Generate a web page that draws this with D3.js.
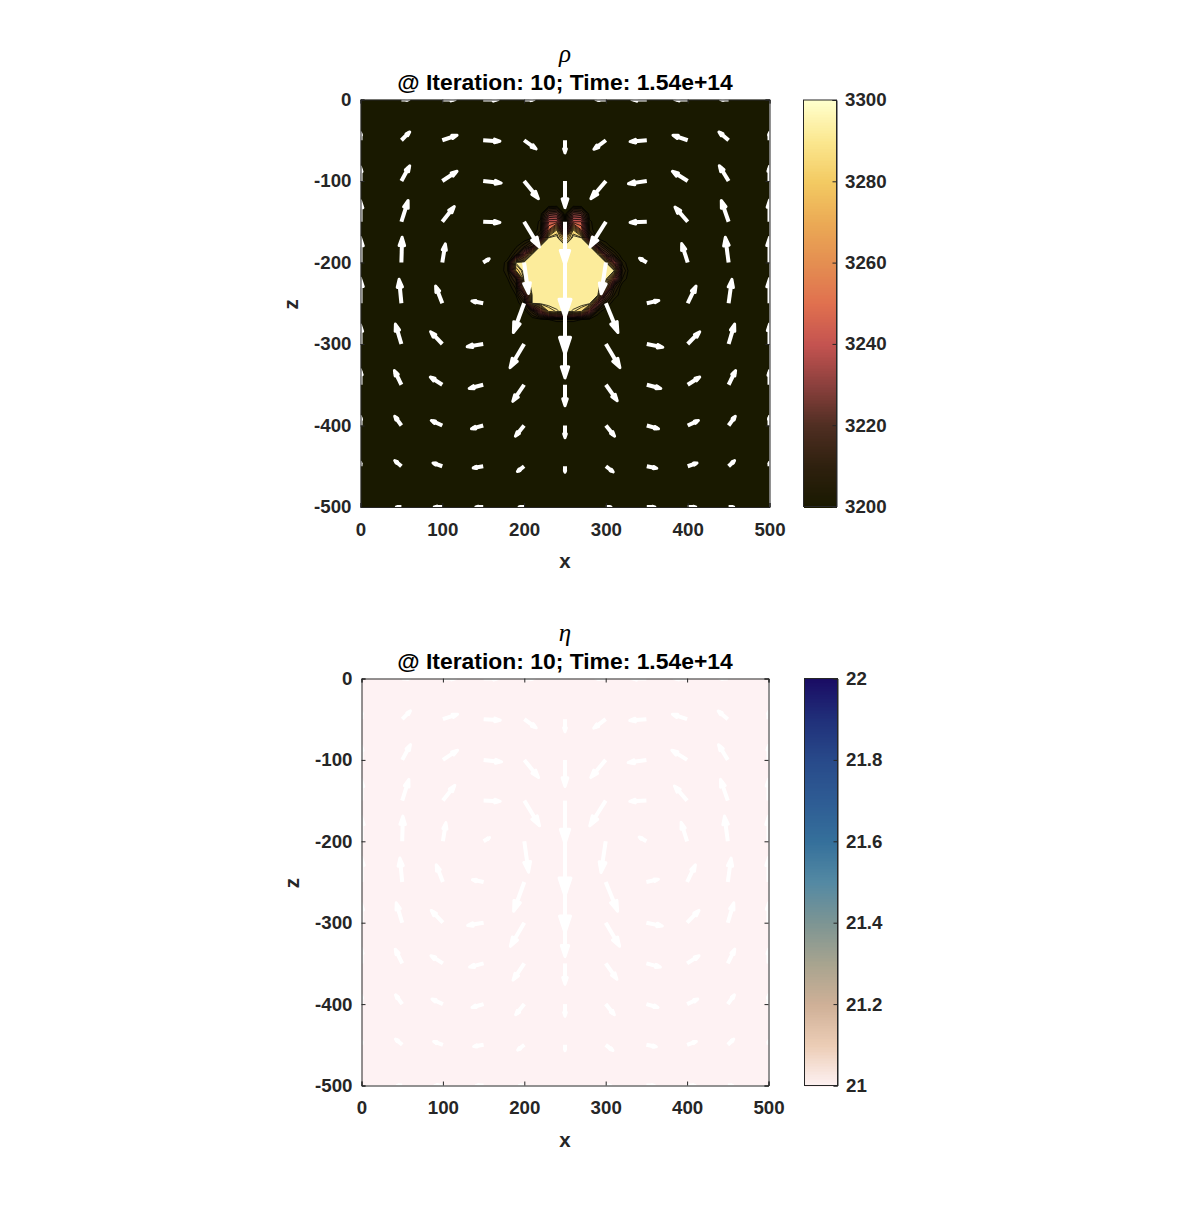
<!DOCTYPE html>
<html>
<head>
<meta charset="utf-8">
<script src="https://cdn.jsdelivr.net/npm/d3@7"></script>
<style>
  body { margin: 0; background: #fff; }
  text { font-family: "Liberation Sans", Arial, sans-serif; font-weight: bold; fill: #262626; }
  .tick text { font-size: 18.7px; }
  .tick line, .domain { stroke: #262626; stroke-width: 1; }
</style>
</head>
<body>
<svg id="fig" width="1197" height="1220"></svg>
<script>
// Quiver grid
const gridX = [0, 50, 100, 150, 200, 250, 300, 350, 400, 450, 500];
const gridZ = [0, -50, -100, -150, -200, -250, -300, -350, -400, -450, -500];

// Horizontal velocity, one row per gridZ
const velU = [
  [0, 7.6, 13, 15, 10, 0, -10, -15, -13, -8, 0],
  [0, 8.3, 14.7, 16.7, 12, 0, -12, -16.7, -14.7, -9.7, 0],
  [0, 8.3, 14.7, 18, 14.3, 0, -15, -18.3, -15.3, -9.3, 0],
  [0, 6.7, 12, 16.7, 15.3, 0, -16, -16.7, -12.7, -7.3, 0],
  [0, 0.7, 3, 6, 4.3, 0, -4.7, -7.3, -6, -3.3, 0],
  [0, -2.3, -6.7, -11.3, -10.7, 0, 12, 12, 8.3, 3.3, 0],
  [0, -6, -11.7, -16, -14, 0, 14, 16, 12, 6, 0],
  [0, -7, -12, -14, -11.3, 0, 11.3, 14, 12, 7, 0],
  [0, -6.7, -11, -11.7, -8.7, 0, 8.7, 11.7, 10.7, 6.7, 0],
  [0, -6.7, -9.3, -10, -6.7, 0, 7.3, 10, 9.3, 6, 0],
  [0, -5, -8, -7.3, -5, 0, 5, 8, 8, 5, 0]
];

// Vertical velocity, positive is up
const velW = [
  [0, 0, 0, 0, 0, 0, 0, 0, 0, 0, 0],
  [7.7, 8.3, 5, -1, -8.7, -12.7, -9, -1.3, 5, 8.3, 7.7],
  [14, 15.3, 9.7, -2, -17.7, -26.7, -17.7, -2.7, 9.7, 15.3, 14.7],
  [21, 21.3, 15.3, -0.7, -25.3, -43, -25.3, -0.7, 14.7, 21.3, 21.7],
  [25, 25.3, 18.7, 3.7, -31, -55, -31.3, 4.3, 19, 25.3, 25.3],
  [25, 24, 17.3, 2.3, -29.3, -51, -29.3, 2.7, 17.3, 24, 24.7],
  [19, 20, 12.3, -2.7, -23.7, -34, -23.7, -3.3, 12.3, 20, 20],
  [15, 14.3, 7.7, -3.7, -16.7, -21, -16, -3.7, 7.7, 14.3, 14.3],
  [9, 9.3, 5, -3.3, -10.7, -12.3, -10.7, -3.3, 5, 9.3, 9.3],
  [4, 5.7, 3.3, -1.7, -5.3, -6, -5.7, -2, 3.3, 5.7, 4],
  [0, 0, 0, 0, 0, 0, 0, 0, 0, 0, 0]
];

// Density around the sinking blob, the rest of the domain is rhoBackground
const rhoBackground = 3200;
const rhoX = [170, 180, 190, 200, 210, 220, 230, 240, 250, 260, 270, 280, 290, 300, 310, 320, 330];
const rhoZ = [-130, -140, -150, -160, -170, -180, -190, -200, -210, -220, -230, -240, -250, -260, -270, -280];
const rhoField = [
  [3200, 3200, 3200, 3200, 3200, 3200, 3200, 3200, 3200, 3200, 3200, 3200, 3200, 3200, 3200, 3200, 3200],
  [3200, 3200, 3200, 3200, 3200, 3200, 3225, 3228, 3200, 3228, 3225, 3200, 3200, 3200, 3200, 3200, 3200],
  [3200, 3200, 3200, 3200, 3200, 3204, 3245, 3245, 3204, 3245, 3245, 3204, 3200, 3200, 3200, 3200, 3200],
  [3200, 3200, 3200, 3200, 3200, 3205, 3255, 3285, 3212, 3285, 3255, 3205, 3200, 3200, 3200, 3200, 3200],
  [3200, 3200, 3200, 3200, 3203, 3215, 3293, 3295, 3272, 3295, 3293, 3215, 3202, 3200, 3200, 3200, 3200],
  [3200, 3200, 3202, 3208, 3220, 3293, 3295, 3295, 3295, 3295, 3295, 3293, 3220, 3206, 3200, 3200, 3200],
  [3200, 3200, 3208, 3240, 3293, 3295, 3295, 3295, 3295, 3295, 3295, 3295, 3293, 3225, 3208, 3200, 3200],
  [3200, 3205, 3293, 3295, 3295, 3295, 3295, 3295, 3295, 3295, 3295, 3295, 3295, 3293, 3240, 3205, 3200],
  [3200, 3206, 3280, 3295, 3295, 3295, 3295, 3295, 3295, 3295, 3295, 3295, 3295, 3295, 3293, 3210, 3200],
  [3200, 3203, 3215, 3293, 3295, 3295, 3295, 3295, 3295, 3295, 3295, 3295, 3295, 3295, 3250, 3206, 3200],
  [3200, 3200, 3207, 3280, 3295, 3295, 3295, 3295, 3295, 3295, 3295, 3295, 3295, 3280, 3212, 3200, 3200],
  [3200, 3200, 3203, 3225, 3293, 3295, 3295, 3295, 3295, 3295, 3295, 3295, 3293, 3225, 3206, 3200, 3200],
  [3200, 3200, 3200, 3208, 3293, 3295, 3295, 3295, 3295, 3295, 3295, 3295, 3235, 3208, 3200, 3200, 3200],
  [3200, 3200, 3200, 3200, 3212, 3240, 3285, 3291, 3295, 3291, 3285, 3240, 3205, 3200, 3200, 3200, 3200],
  [3200, 3200, 3200, 3200, 3200, 3201, 3203, 3204, 3204, 3204, 3203, 3201, 3200, 3200, 3200, 3200, 3200],
  [3200, 3200, 3200, 3200, 3200, 3200, 3200, 3200, 3200, 3200, 3200, 3200, 3200, 3200, 3200, 3200, 3200]
];
const rhoLevels = [3203, 3206, 3210, 3215, 3220, 3225, 3230, 3235, 3240, 3245, 3250, 3255, 3260, 3265, 3270, 3275, 3280, 3285, 3290, 3292];

// Viscosity is flat over the whole domain at this step
const etaBackground = 21;

const xTicks = [0, 100, 200, 300, 400, 500];
const zTicks = [0, -100, -200, -300, -400, -500];
const rhoTicks = [3200, 3220, 3240, 3260, 3280, 3300];
const etaTicks = [21, 21.2, 21.4, 21.6, 21.8, 22];

const lajolla = ["#191900", "#2e200e", "#4f2e22", "#8b403d", "#c45350", "#e0704f", "#e48e51", "#ebaa55", "#f3ca62", "#fbe78f", "#ffffcc"];
const lapaz = ["#fef2f3", "#eccdb6", "#cfb097", "#a8a48f", "#7d9593", "#5489a3", "#35709b", "#2e5c94", "#284a8a", "#20307a", "#1a0c64"];

const arrowGain = 1.225;  // velocity to axis units
const svg = d3.select("#fig");

function ramp(stops, lo, hi) {
  return d3.scaleLinear()
    .domain(stops.map((c, i) => lo + (hi - lo) * i / (stops.length - 1)))
    .range(stops)
    .interpolate(d3.interpolateRgb);
}

function drawPanel(o) {
  const x = d3.scaleLinear().domain([0, 500]).range([o.left, o.right]);
  const y = d3.scaleLinear().domain([0, -500]).range([o.top, o.bottom]);
  const clipId = "clip-" + o.name;

  svg.append("clipPath").attr("id", clipId).append("rect")
    .attr("x", o.left).attr("y", o.top)
    .attr("width", o.right - o.left).attr("height", o.bottom - o.top);

  const plot = svg.append("g").attr("clip-path", `url(#${clipId})`);

  plot.append("rect")
    .attr("x", o.left).attr("y", o.top)
    .attr("width", o.right - o.left).attr("height", o.bottom - o.top)
    .attr("fill", o.color(o.background));

  if (o.field) o.field(plot, x, y);

  // quiver arrows, barbs the way matlab builds them
  const arrows = [];
  gridZ.forEach((z, r) => gridX.forEach((gx, c) => {
    if (velU[r][c] !== 0 || velW[r][c] !== 0) {
      arrows.push({ gx, z, u: velU[r][c] * arrowGain, w: velW[r][c] * arrowGain });
    }
  }));

  plot.selectAll("path.shaft").data(arrows).join("path")
    .attr("class", "shaft")
    .attr("fill", "none")
    .attr("stroke", "#fff")
    .attr("stroke-width", 4)
    .attr("d", d => {
      const back = 0.12;
      return `M${x(d.gx)},${y(d.z)}L${x(d.gx + d.u * (1 - back))},${y(d.z + d.w * (1 - back))}`;
    });

  plot.selectAll("path.head").data(arrows).join("path")
    .attr("class", "head")
    .attr("fill", "#fff")
    .attr("stroke", "#fff")
    .attr("stroke-width", 3)
    .attr("stroke-linejoin", "round")
    .attr("d", d => {
      const hx = d.gx + d.u, hz = d.z + d.w;
      const a = 0.33, b = 0.33;
      const p = [
        [hx - a * (d.u + b * d.w), hz - a * (d.w - b * d.u)],
        [hx, hz],
        [hx - a * (d.u - b * d.w), hz - a * (d.w + b * d.u)]
      ];
      return `M${x(p[0][0])},${y(p[0][1])}L${x(p[1][0])},${y(p[1][1])}L${x(p[2][0])},${y(p[2][1])}Z`;
    });

  // axes, box on with mirrored ticks
  const fmt = d => String(d);
  svg.append("g").attr("transform", `translate(0,${o.bottom})`)
    .call(d3.axisBottom(x).tickValues(xTicks).tickSize(-4).tickPadding(15.5).tickFormat(fmt));
  svg.append("g").attr("transform", `translate(0,${o.top})`)
    .call(d3.axisTop(x).tickValues(xTicks).tickSize(-4).tickFormat(""));
  svg.append("g").attr("transform", `translate(${o.left},0)`)
    .call(d3.axisLeft(y).tickValues(zTicks).tickSize(-4).tickPadding(9).tickFormat(fmt));
  svg.append("g").attr("transform", `translate(${o.right},0)`)
    .call(d3.axisRight(y).tickValues(zTicks).tickSize(-4).tickFormat(""));

  const midX = (o.left + o.right) / 2;
  svg.append("text").attr("x", midX).attr("y", o.bottom + 61)
    .attr("text-anchor", "middle").style("font-size", "20.5px").text("x");
  svg.append("text")
    .attr("transform", `translate(${o.left - 63},${(o.top + o.bottom) / 2 + 1}) rotate(-90)`)
    .attr("text-anchor", "middle").style("font-size", "20.5px").text("z");

  svg.append("text").attr("x", midX).attr("y", o.top - 10)
    .attr("text-anchor", "middle").style("font-size", "22.9px").style("fill", "#000")
    .text("@ Iteration: 10; Time: 1.54e+14");
  svg.append("text").attr("x", midX).attr("y", o.top - 38)
    .attr("text-anchor", "middle")
    .style("font-family", "'Liberation Serif', serif").style("font-style", "italic")
    .style("font-weight", "normal").style("font-size", "25px").style("fill", "#000")
    .text(o.symbol);

  // colorbar, 256 flat cells like a matlab colormap
  const cb = d3.scaleLinear().domain(o.domain).range([o.bottom - o.cbInset, o.top + o.cbInset]);
  const step = (o.domain[1] - o.domain[0]) / 256;
  const cells = d3.range(256).map(i => o.domain[0] + step * i);
  svg.append("g").attr("shape-rendering", "crispEdges").selectAll("rect").data(cells).join("rect")
    .attr("x", o.cbLeft)
    .attr("width", o.cbRight - o.cbLeft)
    .attr("y", d => cb(d + step))
    .attr("height", d => cb(d) - cb(d + step) + 1)
    .attr("fill", d => o.color(d + step / 2));

  svg.append("g").attr("transform", `translate(${o.cbRight},0)`)
    .call(d3.axisRight(cb).tickValues(o.ticks).tickSize(-4).tickPadding(8.5).tickFormat(fmt));
  svg.append("rect")
    .attr("x", o.cbLeft).attr("y", cb(o.domain[1]))
    .attr("width", o.cbRight - o.cbLeft).attr("height", cb(o.domain[0]) - cb(o.domain[1]))
    .attr("fill", "none").attr("stroke", "#262626");
}

const rhoColor = ramp(lajolla, 3200, 3300);

function drawRhoField(plot, x, y) {
  const flat = rhoField.flat();
  const contours = d3.contours().size([rhoX.length, rhoZ.length]).smooth(true).thresholds(rhoLevels)(flat);
  // contour coordinates have cell centres at +0.5
  const cx = d3.scaleLinear().domain([0.5, rhoX.length - 0.5]).range([rhoX[0], rhoX[rhoX.length - 1]]);
  const cz = d3.scaleLinear().domain([0.5, rhoZ.length - 0.5]).range([rhoZ[0], rhoZ[rhoZ.length - 1]]);
  const path = d3.geoPath(d3.geoTransform({
    point(px, py) { this.stream.point(x(cx(px)), y(cz(py))); }
  }));
  plot.append("g").selectAll("path").data(contours).join("path")
    .attr("d", path)
    .attr("fill", d => rhoColor(d.value))
    .attr("stroke", "#000")
    .attr("stroke-width", 0.75);
}

drawPanel({
  name: "rho", symbol: "\u03C1",
  left: 360.5, right: 769.5, top: 99.5, bottom: 507,
  cbLeft: 803.5, cbRight: 836.5, cbInset: 0.5,
  domain: [3200, 3300], ticks: rhoTicks,
  color: rhoColor, background: rhoBackground, field: drawRhoField
});

drawPanel({
  name: "eta", symbol: "\u03B7",
  left: 361.5, right: 768.5, top: 678.5, bottom: 1085.5,
  cbLeft: 804.5, cbRight: 837.5, cbInset: 0,
  domain: [21, 22], ticks: etaTicks,
  color: ramp(lapaz, 21, 22), background: etaBackground
});
</script>
</body>
</html>
